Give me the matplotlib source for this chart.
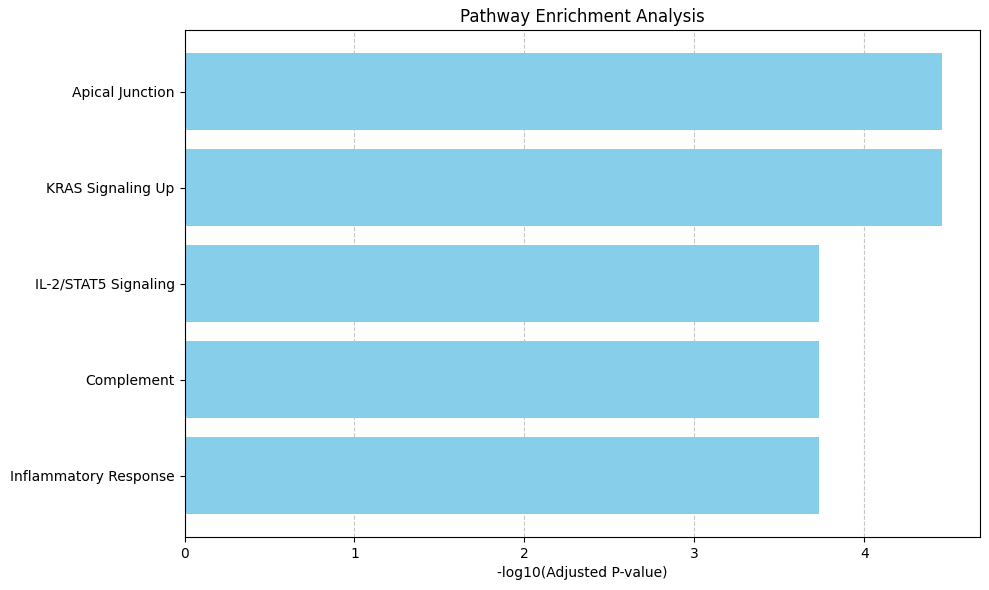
import matplotlib
matplotlib.use("Agg")
import matplotlib.pyplot as plt

pathways = ["Apical Junction", "KRAS Signaling Up", "IL-2/STAT5 Signaling",
            "Complement", "Inflammatory Response"]
neg_log_p = [4.459, 4.459, 3.735, 3.735, 3.735]

W, H = 989, 590
fig, ax = plt.subplots(figsize=(W / 100, H / 100), dpi=100)
ax.barh(pathways, neg_log_p, color="skyblue")
ax.invert_yaxis()
ax.set_xlabel("-log10(Adjusted P-value)")
ax.set_title("Pathway Enrichment Analysis")
ax.grid(axis="x", linestyle="--", alpha=0.7)
ax.set_axisbelow(True)
fig.subplots_adjust(left=184.5 / W, right=980.3 / W, top=1 - 30.3 / H, bottom=1 - 537 / H)
fig.savefig("out.png")
